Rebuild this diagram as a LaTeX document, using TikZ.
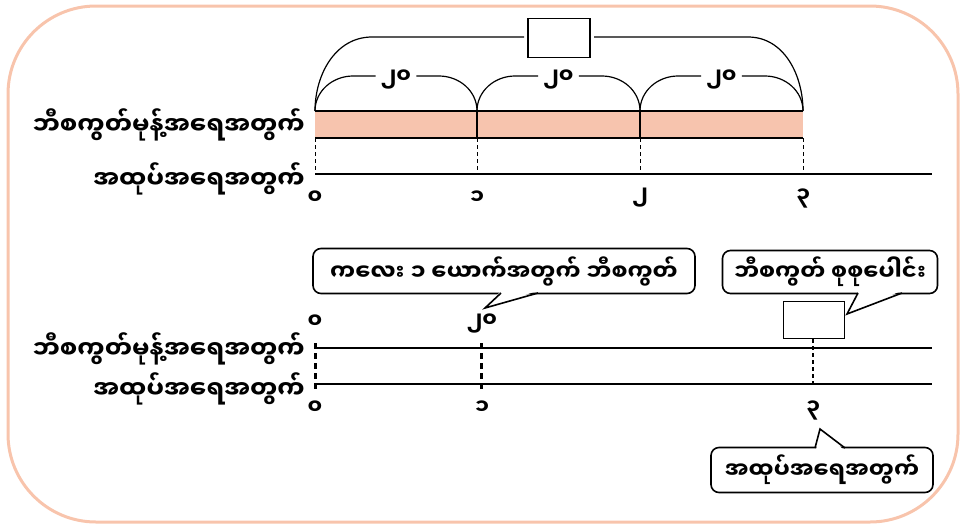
\documentclass[tikz,border=0pt]{standalone}
\usepackage{fontspec}
\newfontfamily\mm[Script=Myanmar]{Noto Sans Myanmar UI}
\definecolor{frame}{RGB}{248,196,172}
\definecolor{bar}{RGB}{247,196,174}
\tikzset{
  lbl/.style={font=\mm\bfseries\fontsize{24.5}{26}\selectfont, inner sep=0pt, anchor=east},
  num/.style={font=\mm\bfseries\fontsize{21}{22}\selectfont, inner sep=0pt},
  ln/.style={line width=1.6pt},
  thin/.style={line width=1.2pt},
  dsh/.style={line width=1pt, dash pattern=on 4pt off 3pt},
  tdsh/.style={line width=3pt, dash pattern=on 6pt off 4pt},
  callout/.style={draw, line width=1.6pt, rounded corners=8pt, fill=white, inner sep=0pt,
    font=\mm\bfseries\fontsize{22.5}{24}\selectfont},
  emptybox/.style={draw, line width=1.8pt, inner sep=0pt},
}
\begin{document}
\begin{tikzpicture}[x=1pt,y=-1pt]
\useasboundingbox (0,0) rectangle (966,528);
% frame
\draw[frame, line width=3pt, rounded corners=88pt] (8,6) rectangle (958,522);

% ---------- top part ----------
\fill[bar] (315,111) rectangle (803,138);
\draw[ln] (315,111) -- (803,111);
\draw[ln] (315,138) -- (803,138);
\draw[thin] (477,111) -- (477,138);
\draw[thin] (640,111) -- (640,138);
% axis
\draw[ln] (315,174) -- (932,174);
\foreach \x in {315,477,640,803} \draw[dsh] (\x,138) -- (\x,174);
% numbers
\node[num] (n0) at (315,198) {၀};
\node[num] (n1) at (477,198) {၁};
\node[num] (n2) at (640,198) {၂};
\node[num] (n3) at (803,198) {၃};
% labels
\node[lbl] (l1) at (305,125) {ဘီစကွတ်မုန့်အရေအတွက်};
\node[lbl] (l2) at (305,179) {အထုပ်အရေအတွက်};
% small braces
\foreach \a/\b/\n in {315/477/b1,477/640/b2,640/803/b3}{
  \node[num, inner xsep=5pt] (\n) at ({(\a+\b)/2},79) {၂၀};
  \draw[thin] (\a,111) to[out=90,in=180] ({\a+38},76) -- (\n.west |- 0,76);
  \draw[thin] (\n.east |- 0,76) -- ({\b-38},76) to[out=0,in=90] (\b,111);
}
% big brace
\node[emptybox, minimum width=62pt, minimum height=39pt, outer sep=4pt] (tb) at (559,38) {};
\draw[thin] (315,111) to[out=90,in=180] (372,37) -- (tb.west |- 0,37);
\draw[thin] (tb.east |- 0,37) -- (748,37) to[out=0,in=90] (803,111);

% ---------- bottom part ----------
\draw[ln] (315,348) -- (932,348);
\draw[ln] (315,384) -- (932,384);
\draw[tdsh] (315,343) -- (315,390);
\draw[tdsh] (481,343) -- (481,390);
\node[emptybox, minimum width=61pt, minimum height=37pt] (sb) at (814,320) {};
\draw[dsh, line width=1.6pt] (sb.south -| 813,0) -- (813,384);
\node[num] (m0) at (315,322) {၀};
\node[num] (m20) at (482,323) {၂၀};
\node[lbl] (l3) at (305,349) {ဘီစကွတ်မုန့်အရေအတွက်};
\node[lbl] (l4) at (305,389) {အထုပ်အရေအတွက်};
\node[num] (k0) at (315,408) {၀};
\node[num] (k1) at (482,408) {၁};
\node[num] (k3) at (813,410) {၃};

% callouts
\node[callout, minimum width=382pt, minimum height=45pt] (c1) at (504,271) {ကလေး ၁ ယောက်အတွက် ဘီစကွတ်};
\coordinate (t1) at (485,308);
\fill[white] (501,291) -- (t1) -- (537,291) -- cycle;
\draw[ln] (501,293) -- (t1) -- (538,293);

\node[callout, minimum width=215pt, minimum height=43pt] (c2) at (830,272) {ဘီစကွတ် စုစုပေါင်း};
\coordinate (t2) at (847,314);
\fill[white] (859,291) -- (t2) -- (901,291) -- cycle;
\draw[ln] (858,293) -- (t2) -- (902,293);

\node[callout, minimum width=222pt, minimum height=45pt] (c3) at (822,470) {အထုပ်အရေအတွက်};
\coordinate (t3) at (820,429);
\fill[white] (816,450) -- (t3) -- (844,450) -- cycle;
\draw[ln] (815,448) -- (t3) -- (845,448);
\end{tikzpicture}
\end{document}
